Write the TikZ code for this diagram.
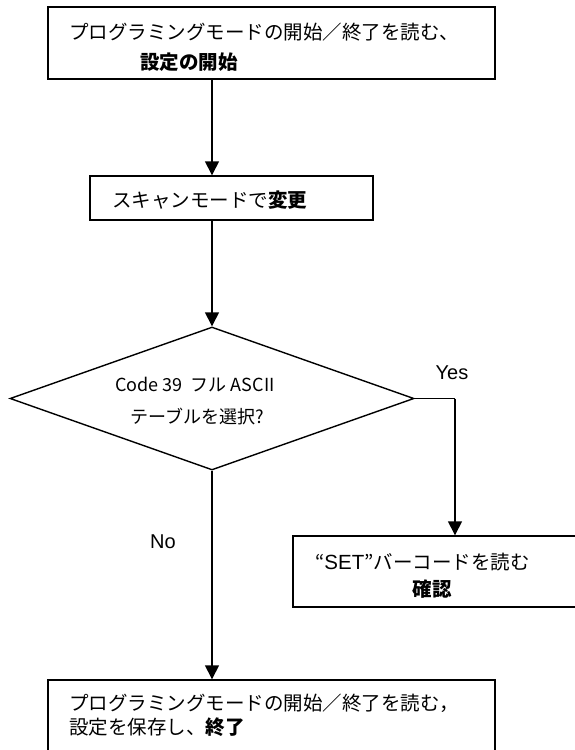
\documentclass[tikz,border=0pt]{standalone}
\usepackage{fontspec}
\setmainfont{Liberation Sans}
\newfontfamily\jp{Noto Sans CJK JP}
\usetikzlibrary{shapes.geometric,arrows.meta}
\tikzset{
  boxnode/.style={draw, line width=1.4pt, rectangle, inner sep=0pt},
  decnode/.style={draw, line width=1.4pt, diamond, inner sep=0pt, minimum width=404pt, minimum height=143pt},
  txt/.style={inner sep=0pt, font=\jp\fontsize{19.5}{24}\selectfont},
  dtxt/.style={inner sep=0pt, font=\jp\fontsize{18}{22}\selectfont},
  lat/.style={inner sep=0pt, font=\fontsize{20}{24}\selectfont},
  arr/.style={line width=1.4pt, -{Triangle[length=14pt,width=14pt]}},
  conn/.style={line width=1.4pt}
}
\begin{document}
\begin{tikzpicture}[x=1pt,y=-1pt]
\useasboundingbox (0,0) rectangle (575,750);
\clip (0,0) rectangle (575,750);
% boxes
\node[boxnode, minimum width=447pt, minimum height=72pt] (top) at (271.5,43) {};
\node[boxnode, minimum width=283pt, minimum height=44pt] (scan) at (231.5,198) {};
\node[decnode] (dec) at (212,398.5) {};
\node[boxnode, minimum width=297pt, minimum height=71pt] (setbox) at (441.5,571.5) {};
\node[boxnode, minimum width=447pt, minimum height=90pt] (endbox) at (271.5,725) {};
% texts
\node[txt, anchor=west] (t1a) at (69,32) {プログラミングモードの開始／終了を読む、};
\node[txt, anchor=west] (t1b) at (140,62) {\bfseries 設定の開始};
\node[txt, anchor=west] (t2) at (112,200) {スキャンモードで\bfseries 変更};
\node[dtxt] (d1) at (195,385) {Code 39\ \ フル ASCII};
\node[dtxt] (d2) at (197,417) {テーブルを選択?};
\node[lat] (yes) at (452,373) {Yes};
\node[lat] (no) at (163,542) {No};
\node[txt, anchor=west] (s1) at (315,562) {“{\fontspec{Liberation Sans}\fontsize{20.5}{24}\selectfont SET}”バーコードを読む};
\node[txt] (s2) at (432,589) {\bfseries 確認};
\node[txt, anchor=west] (e1) at (69,703) {プログラミングモードの開始／終了を読む，};
\node[txt, anchor=west] (e2) at (69,727) {設定を保存し、\bfseries 終了};
% connectors
\coordinate (yc) at (455,398.5);
\draw[arr] (dec.north |- top.south) -- (dec.north |- scan.north);
\draw[arr] (dec.north |- scan.south) -- (dec.north);
\draw[conn] (dec.east) -- (yc);
\draw[arr] (yc) -- (yc |- setbox.north);
\draw[arr] (dec.south) -- (dec.south |- endbox.north);
\end{tikzpicture}
\end{document}
